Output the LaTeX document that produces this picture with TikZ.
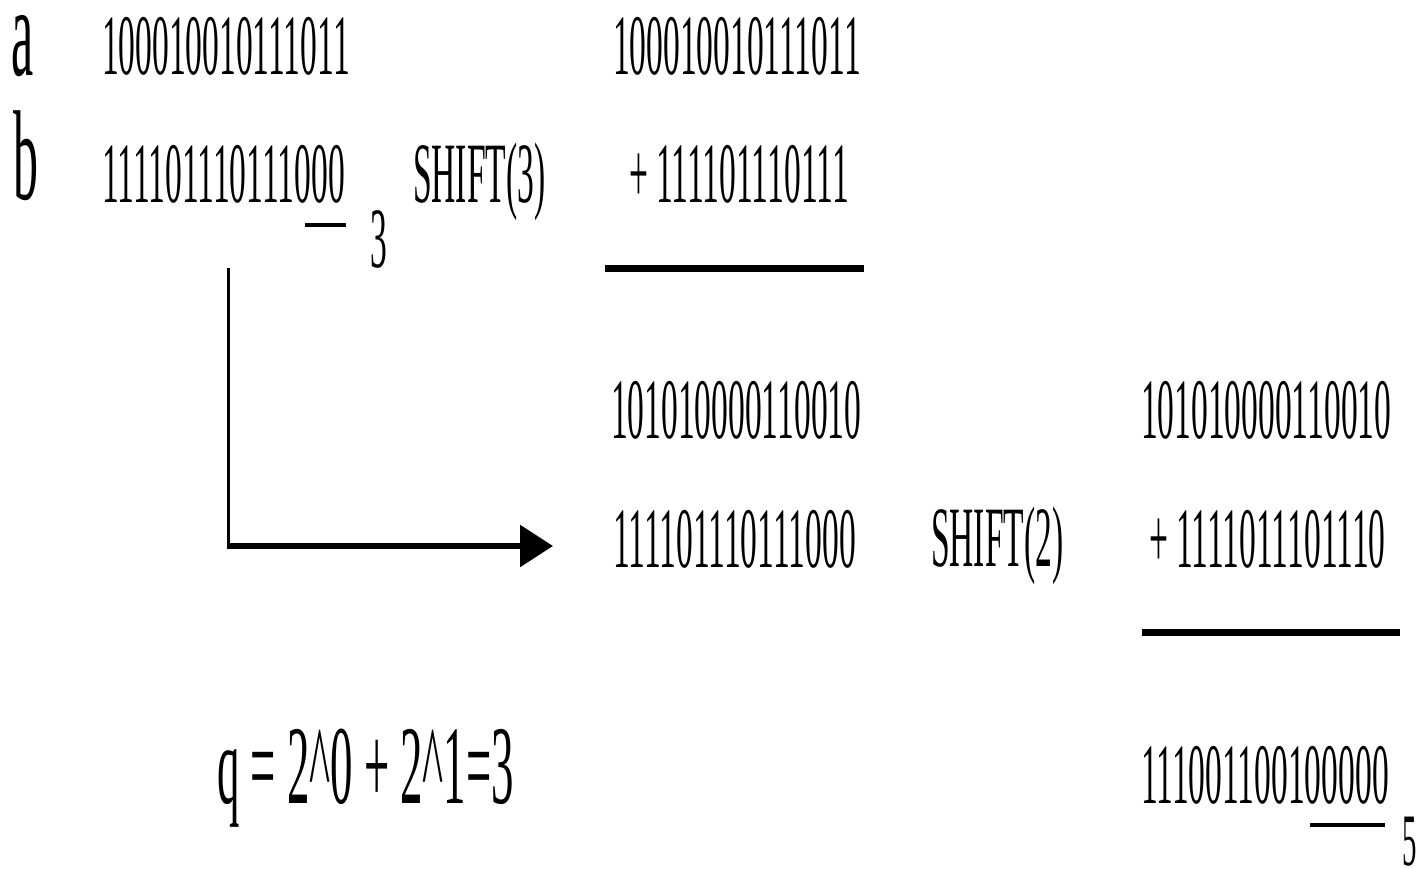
\documentclass[tikz,border=0pt]{standalone}
\usepackage{fontspec}
\setmainfont{Liberation Serif}
\usetikzlibrary{arrows.meta}
\newcommand{\cnd}[1]{\scalebox{0.39}[1]{#1}}
\begin{document}
\begin{tikzpicture}[x=1pt,y=-1pt,
  txt/.style={anchor=base west, inner sep=0pt, outer sep=0pt, font=\fontsize{86}{86}\selectfont},
  big/.style={txt, font=\fontsize{128}{128}\selectfont},
  qtxt/.style={txt, font=\fontsize{112}{112}\selectfont},
  small/.style={txt, font=\fontsize{74}{74}\selectfont},
  rulebar/.style={line width=7pt},
  uline/.style={line width=4pt}]
\useasboundingbox (0,0) rectangle (1423,869);
% row a
\node[big, text height=60pt, text depth=0pt] (la) at (11,76) {\cnd{a}};
\node[txt] (a1) at (102,75) {\cnd{100010010111011}};
\node[txt] (a2) at (613,75) {\cnd{100010010111011}};
% row b
\node[big] (lb) at (13,200) {\cnd{b}};
\node[txt] (b1) at (102,203) {\cnd{111101110111000}};
\draw[uline] (305,225) -- (346,225);
\node[txt] (s3) at (370,267) {\cnd{3}};
\node[txt] (sh3) at (413,202) {\cnd{SHIFT(3)}};
\node[txt] (b2) at (629,203) {\cnd{+ 111101110111}};
\draw[rulebar] (605,268) -- (864,268);
% arrow
\coordinate (c0) at (228,268);
\coordinate (c1) at (228,546);
\coordinate (c2) at (553,546);
\draw[line width=3pt] (c0) -- (c1);
\draw[line width=6pt, -{Triangle[length=33pt,width=41pt]}] ([xshift=-1.5pt]c1) -- (c2);
% rows 3,4
\node[txt] (r3a) at (611,438) {\cnd{101010000110010}};
\node[txt] (r3b) at (1141,438) {\cnd{101010000110010}};
\node[txt] (r4a) at (613,567) {\cnd{111101110111000}};
\node[txt] (sh2) at (931,566) {\cnd{SHIFT(2)}};
\node[txt] (r4b) at (1149,567) {\cnd{+ 1111011101110}};
\draw[rulebar] (1142,632) -- (1400,632);
% bottom
\node[qtxt] (q) at (217,803) {\scalebox{0.4}[1]{q = 2\^{}0 + 2\^{}1=3}};
\node[txt] (r5) at (1141,803) {\cnd{111001100100000}};
\draw[uline] (1310,825) -- (1385,825);
\node[small, text height=50pt, text depth=0pt] (s5) at (1402,865) {\cnd{5}};
\end{tikzpicture}
\end{document}
